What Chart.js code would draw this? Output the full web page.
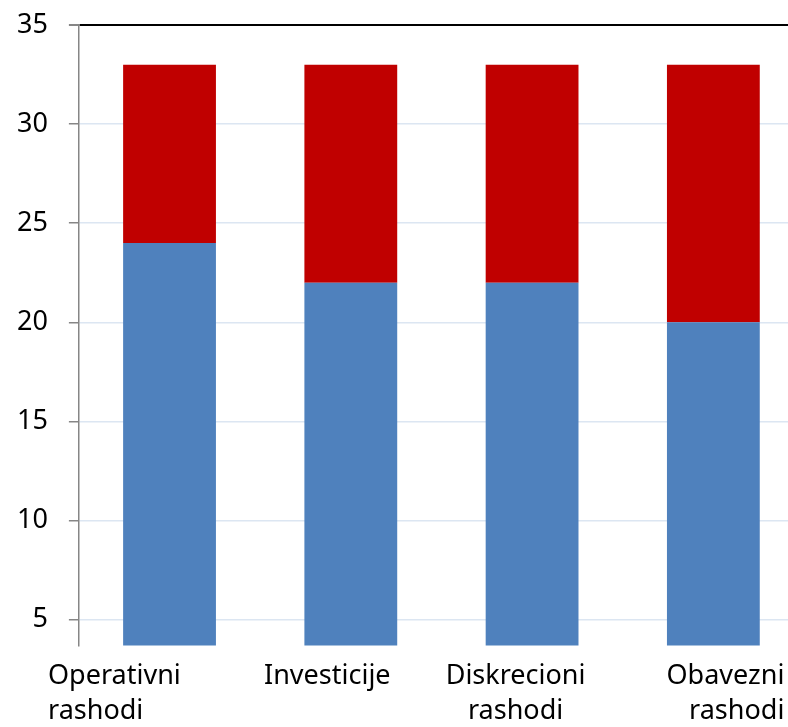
<!DOCTYPE html>
<html>
<head>
<meta charset="utf-8">
<script src="https://cdn.jsdelivr.net/npm/chart.js@4"></script>
<style>
  html, body { margin: 0; padding: 0; background: #fff; overflow: hidden; }
  #wrap { position: relative; width: 804px; height: 727px; }
</style>
</head>
<body>
<div id="wrap"><canvas id="chart"></canvas></div>
<script>
const categories = [["Operativni", "rashodi"], "Investicije", ["Diskrecioni", "rashodi"], ["Obavezni", "rashodi"]];
const blueValues = [24, 22, 22, 20];
const redValues = [9, 11, 11, 13];
const yTicks = [5, 10, 15, 20, 25, 30, 35];

// how each category label sits against its tick (the source squeezes the outer ones inward)
const labelAlign = ["left", "center", "center", "right"];
const labelShift = [-121.5, -23.5, -16.5, 71];

const font = { family: "'Noto Sans', sans-serif", size: 27 };

// draws the x labels itself, so each one can keep its own alignment
const categoryLabels = {
  id: "categoryLabels",
  afterDraw(chart) {
    const scale = chart.scales.x;
    const ctx = chart.ctx;
    ctx.save();
    ctx.font = `${font.size}px ${font.family}`;
    ctx.fillStyle = "#000";
    ctx.textBaseline = "alphabetic";
    scale.ticks.forEach((tick, i) => {
      const lines = [].concat(categories[i]);
      const x = scale.getPixelForTick(i) + labelShift[i];
      ctx.textAlign = labelAlign[i];
      lines.forEach((line, j) => ctx.fillText(line, x, scale.top + 38.5 + j * 35));
    });
    ctx.restore();
  }
};

new Chart(document.getElementById("chart").getContext("2d"), {
  type: "bar",
  data: {
    labels: categories,
    datasets: [
      { data: blueValues, backgroundColor: "#4f81bd", barPercentage: 0.512, categoryPercentage: 1 },
      { data: redValues, backgroundColor: "#c00000", barPercentage: 0.512, categoryPercentage: 1 }
    ]
  },
  plugins: [categoryLabels],
  options: {
    responsive: true,
    maintainAspectRatio: false,
    animation: false,
    layout: { padding: { top: 25, left: -4, right: 0, bottom: -11.5 } },
    plugins: { legend: { display: false }, tooltip: { enabled: false } },
    scales: {
      x: {
        stacked: true,
        grid: { display: false },
        border: { display: false },
        ticks: { color: "transparent", font: { ...font, lineHeight: 1.37 }, padding: 5.5, maxRotation: 0 }
      },
      y: {
        stacked: true,
        min: 3.7,
        max: 35,
        afterBuildTicks: (scale) => { scale.ticks = yTicks.map((v) => ({ value: v })); },
        afterFit: (scale) => { scale.paddingTop = 0; scale.paddingBottom = 0; },
        grid: {
          color: (ctx) => (ctx.tick && ctx.tick.value === 35 ? "#000" : "#dce6f2"),
          lineWidth: (ctx) => (ctx.tick && ctx.tick.value === 35 ? 2 : 1.5),
          tickColor: "#868686",
          tickLength: 10
        },
        border: { color: "#868686", width: 1.5 },
        ticks: { color: "#000", font: font, padding: 21 }
      }
    }
  }
});
</script>
</body>
</html>
